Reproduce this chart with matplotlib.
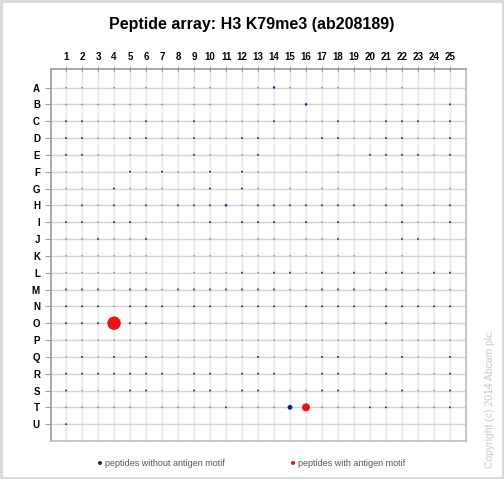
import matplotlib
matplotlib.use("Agg")
import matplotlib.pyplot as plt
import numpy as np

plt.rcParams["font.family"] = ["Liberation Sans", "DejaVu Sans"]

# --- data ---------------------------------------------------------------------------
row_labels = list("ABCDEFGHIJKLMNOPQRSTU")
col_labels = [str(c) for c in range(1, 26)]

# relative signal of peptides without the antigen motif (rows A..U, columns 1..25)
signal = [
    [.5, .5, 0, .5, 0, .5, 0, 0, .5, .5, 0, 0, .5, 1.6, .5, 0, .5, .5, 0, 0, 0, .5, 0, 0, 0],
    [.5, .5, .5, .5, .5, .5, .5, 0, .5, .5, 0, 0, .5, .5, 0, 1.6, 0, 0, 0, 0, .5, .5, .5, 0, 1],
    [1, 1, .5, .5, .5, 1, .5, .5, 1, .5, .5, .5, .5, 1, .5, .5, .5, 1, .5, .5, 1, 1, 1, .5, 1],
    [1, 1, .5, .5, 1, 1, .5, .5, 1, .5, .5, 1, 1, .5, .5, .5, 1, 1, .5, .5, 1, 1, .5, .5, 1],
    [1, 1, .5, 0, .5, 0, .5, 0, 1, .5, 0, .5, 1, 0, 0, 0, 0, .5, 0, 1, 1, 1, 1, .5, 1],
    [.5, .5, 0, 0, 1, .5, 1, .5, .5, 1, 0, 1, .5, 0, 0, .5, 0, .5, 0, 0, 0, .5, 0, 0, 0],
    [.5, .5, 0, 1, .5, .5, .5, 0, .5, 1, 0, 1, .5, 0, .5, 0, .5, .5, 0, 0, .5, .5, 0, 0, .5],
    [.5, 1, .5, 1, .5, 1, .5, 1, 1, 1, 1.6, .5, 1, 1, 1, 1, 1, 1, 1, .5, 1, 1, .5, .5, 1],
    [1, 1, .5, 1, 1, .5, .5, .5, .5, 1, .5, 1, 1, 1, .5, 1, .5, 1, .5, .5, .5, 1, .5, .5, 1],
    [.5, .5, 1, .5, .5, 1, 0, 0, 0, .5, 0, 0, .5, .5, 0, .5, .5, 1, 0, 0, 0, 1, 1, .5, 0],
    [.5, .5, .5, .5, .5, .5, 0, 0, .5, .5, 0, .5, .5, .5, .5, .5, 0, .5, .5, 0, 0, .5, 0, 0, 0],
    [.5, .5, .5, .5, .5, .5, 0, 0, .5, .5, .5, 1, .5, 1, 1, .5, 1, .5, 1, .5, 1, 1, .5, 1, 1],
    [1, 1, 1, .5, 1, 1, .5, 1, 1, 1, 1, 1, 1, 1, .5, .5, 1, 1, 1, .5, 1, .5, .5, .5, .5],
    [1, 1, 1, .5, 1, 1, 1, .5, 1, 1, .5, 1, 1, 1, .5, 1, 1, 1, 1, .5, 1, 1, 1, 1, 1],
    [1, 1, 1, 0, 1, 1, .5, .5, .5, .5, .5, .5, .5, .5, .5, .5, .5, .5, .5, .5, 1, .5, .5, .5, .5],
    [.5, .5, .5, .5, .5, .5, 0, .5, .5, .5, .5, .5, .5, .5, .5, .5, .5, .5, .5, .5, .5, .5, .5, .5, .5],
    [.5, 1, .5, 1, .5, 1, .5, .5, .5, .5, .5, .5, 1, .5, .5, .5, 1, 1, .5, .5, .5, 1, .5, 0, 1],
    [1, 1, 1, 1, 1, 1, 1, .5, 1, 1, .5, 1, 1, 1, .5, .5, 1, 1, .5, .5, 1, .5, .5, .5, 1],
    [1, .5, .5, .5, 1, 1, .5, .5, 1, 1, .5, 1, 1, .5, .5, .5, 1, 1, .5, .5, .5, 1, .5, .5, 1],
    [.5, .5, .5, .5, .5, 0, .5, .5, .5, .5, 1, .5, .5, .5, 6, 0, .5, .5, .5, 1, 1, .5, .5, .5, 1],
    [1, 0, 0, 0, 0, 0, 0, 0, 0, 0, 0, 0, 0, 0, 0, 0, 0, 0, 0, 0, 0, 0, 0, 0, 0],
]

# peptides carrying the antigen motif
motif_rows = ["O", "T"]
motif_cols = [4, 16]
motif_signal = [45, 16]

BLUE = "#1c1c9c"
RED = "#ee1111"


def marker_area(sig):
    """Dot diameter (px) grows with sqrt(signal); return scatter area in pt^2."""
    d_px = 2.0 * np.sqrt(np.asarray(sig, dtype=float))
    return (d_px * 0.72) ** 2


fig = plt.figure(figsize=(5.04, 4.79), dpi=100)
ax = fig.add_axes([51 / 504, 1 - 441 / 479, 415 / 504, 372 / 479])

# grid
for c in range(1, 26):
    ax.axvline(c, color="#e2e2e8", lw=0.9, zorder=0)
for r in range(1, 22):
    ax.axhline(r, color="#d4d4d4", lw=1.0, zorder=0)

sig = np.array(signal)
rr, cc = np.nonzero(sig)
vals = sig[rr, cc]
alphas = np.clip(0.35 + 0.55 * vals, 0, 1)
colors = [(0.11, 0.11, 0.61, a) for a in alphas]
ax.scatter(cc + 1, rr + 1, s=marker_area(vals), c=colors, lw=0, zorder=2)

my = [row_labels.index(r) + 1 for r in motif_rows]
ax.scatter(motif_cols, my, s=marker_area(motif_signal), color=RED, lw=0, zorder=3)

ax.set_xlim(0.06, 26)
ax.set_ylim(22, -0.1)
ax.xaxis.tick_top()
ax.set_xticks(range(1, 26))
ax.set_xticklabels(col_labels, fontsize=7, fontweight="bold")
ax.set_yticks(range(1, 22))
ax.set_yticklabels(row_labels, fontsize=7, fontweight="bold")
ax.tick_params(axis="x", direction="inout", length=4, width=0.6, color="#888888", pad=3)
ax.tick_params(axis="y", direction="out", length=4, width=0.6, color="#888888", pad=4)
for side in ("left", "top"):
    ax.spines[side].set_color("#999999")
    ax.spines[side].set_linewidth(1.2)
for side in ("right", "bottom"):
    ax.spines[side].set_color("#bbbbbb")
    ax.spines[side].set_linewidth(1.2)

fig.text(0.5, 1 - 25 / 479, "Peptide array: H3 K79me3 (ab208189)", ha="center", va="center",
         fontsize=11.5, fontweight="bold")

# legend, copyright and outer frame drawn in pixel coordinates
lax = fig.add_axes([0, 0, 1, 1], facecolor="none")
lax.set_xlim(0, 504)
lax.set_ylim(479, 0)
lax.axis("off")
lax.scatter([100, 293], [463, 463], s=marker_area([4, 4]), color=[BLUE, RED], lw=0)
lax.text(105, 463, "peptides without antigen motif", va="center", fontsize=6.5, color="#555555")
lax.text(298, 463, "peptides with antigen motif", va="center", fontsize=6.5, color="#555555")
lax.text(490, 468, "Copyright (c) 2014 Abcam plc.", rotation=90, ha="center", va="bottom",
         fontsize=7.5, color="#c8c8c8")
lax.add_patch(plt.Rectangle((1, 1), 502, 477, fill=False, ec="#d8d8d8", lw=2))

fig.savefig("out.png", dpi=100)
